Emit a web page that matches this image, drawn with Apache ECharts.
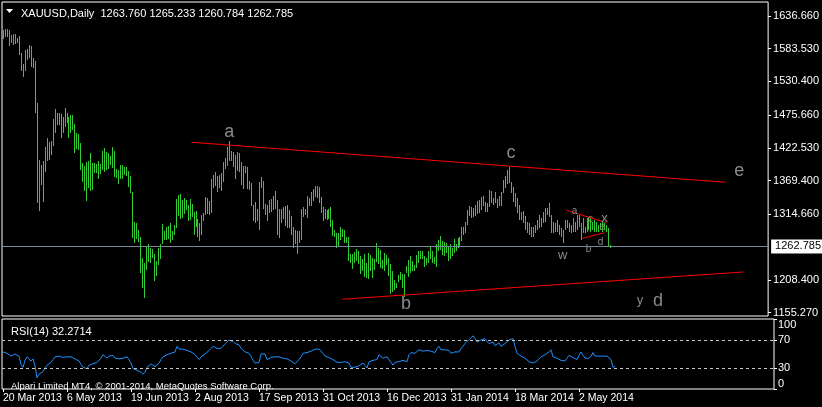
<!DOCTYPE html>
<html><head><meta charset="utf-8">
<script src="https://cdn.jsdelivr.net/npm/echarts@6.0.0/dist/echarts.min.js"></script>
<style>html,body{margin:0;padding:0;background:#000;}#c{width:822px;height:407px;}</style>
</head><body><div id="c"></div>
<script>
const FONT = '"Liberation Sans", Arial, sans-serif';
const symbolTitle = 'XAUUSD,Daily  1263.760 1265.233 1260.784 1262.785';
const rsiTitle = 'RSI(14) 32.2714';
const copyright = 'Alpari Limited MT4, \u00a9 2001-2014, MetaQuotes Software Corp.';

const highs = [
1613.8,1614.9,1614.9,1613.8,1605.7,1607.3,1607.3,1600.3,1604.1,1576.5,
1558.6,1581.4,1583.0,1589.5,1587.9,1567.9,1563.5,1494.9,1402.9,1394.9,
1401.3,1424.1,1438.6,1432.2,1433.8,1469.4,1485.7,1478.7,1478.7,1477.1,
1472.7,1487.3,1478.7,1472.2,1475.4,1475.9,1460.9,1446.3,1445.1,1430.1,
1397.6,1393.2,1399.7,1401.3,1413.8,1397.6,1397.6,1396.5,1400.8,1397.0,
1417.6,1421.9,1415.9,1413.8,1409.4,1423.6,1417.6,1388.4,1386.7,1394.9,
1394.9,1391.1,1392.1,1384.6,1377.0,1350.6,1302.9,1301.3,1289.4,1278.1,
1244.0,1235.4,1262.4,1266.7,1260.7,1258.6,1250.5,1239.6,1260.7,1266.7,
1299.2,1287.8,1294.3,1295.9,1300.3,1287.8,1297.1,1339.7,1346.2,1347.3,
1338.1,1341.3,1338.1,1329.5,1339.7,1331.6,1319.1,1320.3,1307.3,1301.3,
1313.3,1317.0,1342.9,1341.8,1336.5,1371.7,1378.6,1384.0,1377.0,1378.6,
1381.9,1399.7,1406.2,1424.1,1433.8,1418.0,1415.5,1411.6,1415.9,1414.8,
1399.7,1393.7,1393.7,1391.6,1368.9,1365.7,1330.5,1334.8,1323.5,1367.3,
1375.4,1368.9,1331.6,1329.5,1338.1,1339.7,1344.6,1352.7,1338.1,1323.5,
1323.0,1326.3,1328.4,1330.0,1321.9,1312.1,1294.8,1289.4,1288.3,1287.8,
1323.5,1326.3,1323.0,1344.6,1340.8,1351.1,1355.9,1360.8,1360.8,1359.2,
1343.5,1326.7,1323.0,1321.9,1323.5,1326.7,1305.7,1289.4,1284.1,1285.0,
1293.8,1291.0,1289.4,1277.6,1278.1,1250.5,1250.0,1253.7,1259.1,1255.4,
1247.3,1241.9,1250.5,1235.4,1252.1,1248.9,1243.5,1242.9,1267.9,1259.8,
1257.0,1240.3,1251.6,1248.9,1243.5,1234.3,1222.9,1208.3,1203.0,1216.5,
1220.8,1217.6,1217.6,1231.1,1240.8,1247.3,1239.6,1232.7,1248.9,1255.4,
1255.9,1255.4,1247.3,1243.5,1255.4,1262.4,1255.4,1245.2,1266.2,1273.2,
1279.7,1271.6,1269.5,1267.9,1261.4,1266.7,1259.8,1274.8,1267.2,1276.9,
1278.6,1294.8,1294.8,1302.9,1321.9,1328.4,1327.2,1324.6,1330.0,1337.0,
1338.1,1342.5,1344.6,1335.3,1332.7,1354.3,1353.2,1340.8,1351.6,1339.7,
1344.6,1350.6,1370.6,1377.0,1386.7,1392.1,1367.8,1359.7,1348.9,1340.8,
1330.0,1319.1,1320.7,1312.1,1302.9,1300.3,1294.8,1293.8,1297.6,1305.7,
1313.8,1308.4,1319.1,1324.6,1324.6,1332.7,1313.8,1302.9,1300.3,1305.7,
1297.6,1292.2,1289.4,1305.7,1305.7,1301.3,1297.6,1308.4,1302.9,1313.8,
1313.8,1300.3,1308.4,1294.8,1308.4,1311.0,1308.4,1302.9,1305.7,1302.9,
1297.6,1300.3,1302.9,1300.3,1297.6,1292.2,1265.233];

const lows = [
1599.7,1602.9,1601.9,1588.3,1592.2,1589.5,1591.1,1592.2,1572.8,1547.8,
1538.1,1547.8,1565.1,1568.9,1554.3,1551.7,1479.7,1333.7,1320.7,1362.4,
1335.3,1384.0,1401.8,1402.9,1411.1,1425.7,1447.2,1459.7,1460.2,1439.1,
1447.2,1456.0,1462.5,1439.1,1446.3,1451.6,1414.8,1420.3,1419.2,1387.2,
1367.8,1353.2,1337.0,1358.0,1353.2,1354.8,1381.4,1382.4,1372.6,1379.8,
1386.7,1384.0,1386.7,1387.9,1394.4,1390.5,1375.4,1374.3,1364.5,1372.6,
1371.7,1378.1,1377.0,1359.7,1348.9,1276.0,1268.8,1274.8,1270.4,1220.2,
1195.9,1179.6,1224.6,1238.0,1236.4,1243.5,1207.2,1215.3,1232.7,1241.9,
1266.7,1273.2,1273.2,1274.3,1268.8,1273.2,1281.3,1293.2,1312.6,1307.3,
1308.4,1315.4,1321.9,1304.0,1305.7,1311.0,1281.3,1294.8,1278.1,1272.1,
1281.3,1304.0,1313.8,1315.9,1313.8,1317.5,1357.1,1360.8,1351.6,1357.1,
1353.2,1367.3,1387.9,1393.7,1401.3,1401.8,1391.1,1372.1,1384.6,1384.0,
1362.4,1356.4,1381.4,1355.9,1354.3,1328.8,1304.0,1301.3,1304.5,1289.9,
1357.1,1323.5,1313.3,1304.5,1316.5,1318.1,1322.4,1323.0,1281.3,1276.9,
1301.3,1307.8,1295.9,1292.2,1293.2,1281.3,1260.7,1266.7,1251.0,1268.8,
1273.2,1311.0,1313.3,1309.4,1328.4,1328.4,1336.5,1342.5,1340.8,1333.7,
1317.5,1304.5,1307.8,1305.7,1307.8,1293.8,1280.2,1277.6,1260.7,1264.0,
1273.2,1277.6,1267.9,1268.8,1239.6,1236.4,1226.7,1235.4,1239.2,1234.3,
1217.6,1222.9,1213.7,1212.1,1210.5,1222.9,1212.1,1224.6,1237.0,1233.8,
1228.3,1226.7,1222.9,1232.7,1214.8,1185.6,1189.4,1192.1,1195.9,1205.6,
1208.3,1194.9,1181.3,1220.2,1213.7,1219.2,1222.9,1222.9,1228.3,1235.4,
1241.9,1241.9,1229.4,1232.7,1236.4,1242.4,1236.4,1234.3,1229.9,1255.4,
1257.0,1248.9,1247.3,1251.6,1239.2,1242.4,1247.3,1251.6,1255.4,1259.8,
1262.4,1272.1,1281.3,1284.1,1297.5,1312.6,1308.4,1311.0,1312.1,1314.9,
1317.5,1321.9,1328.4,1319.1,1319.1,1327.2,1332.7,1330.0,1332.7,1324.6,
1328.4,1328.4,1348.9,1357.1,1364.0,1365.2,1348.9,1335.3,1327.2,1316.5,
1305.7,1305.7,1301.3,1289.4,1284.1,1281.3,1277.6,1277.6,1284.1,1289.4,
1292.2,1294.8,1300.3,1302.9,1313.8,1311.0,1284.1,1284.1,1286.7,1286.7,
1281.3,1278.6,1267.9,1289.4,1292.2,1286.7,1284.1,1286.7,1286.7,1289.4,
1294.8,1273.2,1284.1,1284.1,1286.7,1289.4,1286.7,1289.4,1286.7,1286.7,
1286.7,1289.4,1286.7,1289.4,1286.7,1262.4,1260.784];

const rsi = [
53,52,51,49,47,48,50,51,47,35,
31,41,46,44,40,43,33,16,21,23,
25,30,34,36,38,42,46,47,47,47,
45,44,46,45,46,45,43,42,40,35,
31,30,29,34,35,36,37,38,40,44,
49,47,44,47,49,48,44,42,43,45,
44,46,46,42,37,29,28,27,26,24,
21,24,31,33,36,34,32,34,37,42,
46,47,49,50,51,52,53,61,57,56,
57,56,55,54,53,52,49,48,42,46,
48,50,52,55,58,61,61,58,56,58,
60,64,67,70,71,68,65,63,63,58,
56,53,52,51,47,41,37,38,38,50,
51,50,42,44,45,46,46,47,46,44,
44,43,43,41,40,38,36,35,42,46,
51,52,52,52,54,56,57,58,57,56,
51,47,46,45,44,42,40,38,37,38,
40,39,38,37,31,30,31,32,33,35,
37,34,30,39,40,41,43,42,49,50,
44,46,46,46,38,34,38,39,39,40,
41,40,39,49,52,51,51,50,56,57,
54,53,55,56,54,52,52,58,61,56,
54,56,57,55,51,53,53,53,53,58,
61,65,68,70,73,76,72,67,69,70,
71,72,68,65,65,67,62,64,66,61,
63,65,65,70,72,72,61,51,49,47,
45,44,42,39,38,37,36,40,43,46,
48,49,51,53,56,46,47,44,42,41,
39,40,44,48,46,45,43,42,48,53,
48,44,44,44,47,52,47,47,47,47,
47,47,47,47,42,31,32.2714];

const dateLabels = ['20 Mar 2013','6 May 2013','19 Jun 2013','2 Aug 2013','17 Sep 2013',
  '31 Oct 2013','16 Dec 2013','31 Jan 2014','18 Mar 2014','2 May 2014'];
const barsPerLabel = 32;
const slotCount = 386;

const priceTicks = [1155.27, 1208.40, 1314.66, 1369.40, 1422.53, 1475.66, 1530.40, 1583.53, 1636.66];
const lastPrice = 1262.785;
const priceMin = 1149.92, priceMax = 1659.2;
const rsiTicks = [0, 30, 70, 100];
const rsiLevels = [30, 70];

// trend lines: [startIndex, startPrice], [endIndex, endPrice]
const lineAE = [[95, 1431.7], [364, 1366.8]];
const lineBD = [[171, 1177.1], [373, 1221.3]];
const lineTriUpper = [[284, 1321.4], [304, 1301.3]];
const lineTriLower = [[292, 1275.9], [303, 1285.1]];

const annoText  = ['a','b','c','d','e','w','y','x','a','b','c','d','e'];
const annoIndex = [114,203,256,330,371,282,321,303,288,295,296,301,302];
const annoPrice = [1447.9,1169.4,1413.8,1174.8,1384.6,1248.4,1174.8,1308.4,1319.1,1258.6,1306.8,1268.8,1293.8];
const annoSize  = [18,18,18,18,18,13,13,13,10,10,10,10,10];

const cats = Array.from({length: slotCount}, (_, i) => String(i));
const isLabelIdx = (idx) => idx % barsPerLabel === 0 && idx / barsPerLabel < dateLabels.length;

const chart = echarts.init(document.getElementById('c'), null, {renderer: 'canvas'});
const white = '#ffffff';
const barColor = '#32cd32';

function trend(name, pts, extra) {
  return Object.assign({
    type: 'line', name, xAxisIndex: 0, yAxisIndex: 0, data: pts, symbol: 'none',
    lineStyle: {color: '#ff0000', width: 1}, silent: true, z: 4
  }, extra || {});
}

chart.setOption({
  animation: false,
  backgroundColor: '#000000',
  textStyle: {fontFamily: FONT},
  title: [
    {text: symbolTitle, left: 16, top: 3, textStyle: {color: white, fontSize: 11, fontWeight: 'normal', fontFamily: FONT}},
    {text: rsiTitle, left: 6, top: 321, textStyle: {color: white, fontSize: 11, fontWeight: 'normal', fontFamily: FONT}},
    {text: copyright, left: 6, top: 376, textStyle: {color: white, fontSize: 9.5, fontWeight: 'normal', fontFamily: FONT}}
  ],
  graphic: [{type: 'polygon', shape: {points: [[6, 9], [13, 9], [9.5, 13]]}, style: {fill: white}}],
  grid: [
    {left: 2, top: 2, width: 772, height: 314, show: true, borderColor: white, borderWidth: 1},
    {left: 2, top: 319, width: 772, height: 70, show: true, borderColor: white, borderWidth: 1}
  ],
  xAxis: [
    {type: 'category', gridIndex: 0, data: cats, boundaryGap: true, show: false},
    {type: 'category', gridIndex: 1, data: cats, boundaryGap: true,
     axisLine: {show: false},
     axisTick: {show: true, alignWithLabel: true, interval: isLabelIdx, length: 3, lineStyle: {color: white}},
     axisLabel: {show: true, interval: isLabelIdx, align: 'left', margin: 4, color: white, fontSize: 10.5, fontFamily: FONT,
       formatter: (v, idx) => dateLabels[Math.round(idx / barsPerLabel)] || ''}}
  ],
  yAxis: [
    {type: 'value', gridIndex: 0, position: 'right', min: priceMin, max: priceMax, scale: true,
     splitLine: {show: false}, axisLine: {show: false},
     axisTick: {show: true, length: 3, customValues: priceTicks, lineStyle: {color: white}},
     axisLabel: {show: true, customValues: priceTicks, margin: 5, color: white, fontSize: 11, fontFamily: FONT,
       formatter: (v) => v.toFixed(3)}},
    {type: 'value', gridIndex: 1, position: 'right', min: 0, max: 100,
     splitLine: {show: false}, axisLine: {show: false},
     axisTick: {show: true, length: 3, customValues: rsiTicks, lineStyle: {color: white}},
     axisLabel: {show: true, customValues: rsiTicks, margin: 4, color: white, fontSize: 11, fontFamily: FONT,
       verticalAlignMinLabel: 'bottom', verticalAlignMaxLabel: 'top'}}
  ],
  series: [
    {
      type: 'custom', name: 'bars', xAxisIndex: 0, yAxisIndex: 0, z: 3, silent: true,
      data: highs.map((h, i) => [i, h, lows[i]]),
      encode: {x: 0, y: [1, 2]},
      renderItem: (params, api) => {
        const i = api.value(0);
        const hi = api.coord([i, api.value(1)]);
        const lo = api.coord([i, api.value(2)]);
        return {type: 'rect', shape: {x: Math.round(hi[0]), y: Math.round(hi[1]), width: 1,
          height: Math.max(1, Math.round(lo[1]) - Math.round(hi[1]))}, style: {fill: barColor}};
      }
    },
    trend('ae', lineAE, {
      markLine: {silent: true, symbol: 'none', animation: false,
        lineStyle: {color: '#778899', width: 1, type: 'solid'},
        label: {show: true, position: 'end', distance: 3, formatter: () => lastPrice.toFixed(3),
          color: '#000', backgroundColor: '#fff', padding: [2, 4, 1, 4], fontSize: 11, fontFamily: FONT},
        data: [{yAxis: lastPrice}]}
    }),
    trend('bd', lineBD),
    trend('triU', lineTriUpper),
    trend('triL', lineTriLower),
    {
      type: 'custom', name: 'labels', xAxisIndex: 0, yAxisIndex: 0, z: 5, silent: true,
      data: annoText.map((t, i) => [annoIndex[i], annoPrice[i], i]),
      encode: {x: 0, y: 1},
      renderItem: (params, api) => {
        const k = api.value(2);
        const p = api.coord([api.value(0), api.value(1)]);
        return {type: 'text', x: p[0], y: p[1], style: {text: annoText[k], fill: '#8a8a8a',
          font: annoSize[k] + 'px "Liberation Sans", Arial, sans-serif', align: 'center', verticalAlign: 'middle'}};
      }
    },
    {
      type: 'line', name: 'RSI', xAxisIndex: 1, yAxisIndex: 1, data: rsi, symbol: 'none', silent: true,
      lineStyle: {color: '#1e90ff', width: 1}, z: 3,
      markLine: {silent: true, symbol: 'none', animation: false, label: {show: false},
        lineStyle: {color: '#c8c8c8', width: 1, type: [3, 3]},
        data: rsiLevels.map(v => ({yAxis: v}))}
    }
  ]
});
</script></body></html>
